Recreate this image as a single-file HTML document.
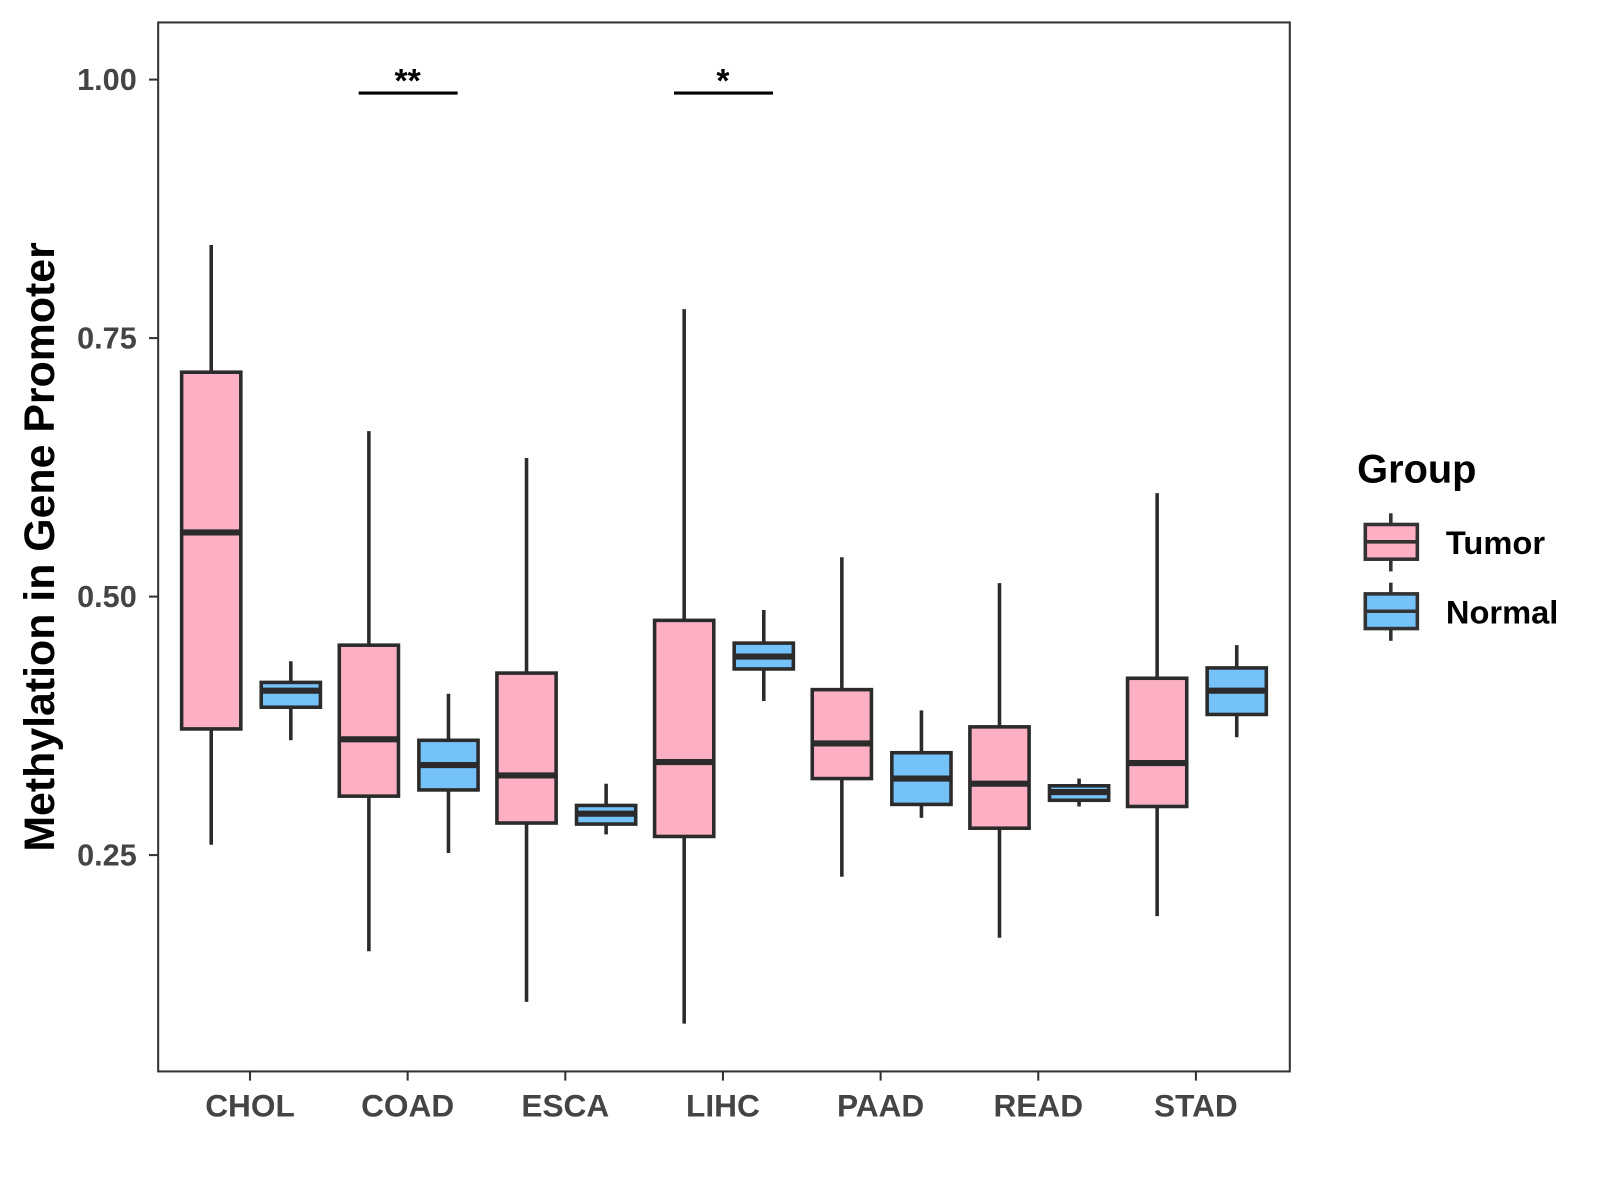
<!DOCTYPE html>
<html><head><meta charset="utf-8"><style>
body{margin:0;background:#fff}
svg{display:block;font-family:"Liberation Sans",Arial,sans-serif;font-weight:bold}
</style></head><body>
<svg id="chart" width="1600" height="1200" viewBox="0 0 1568 1176" xmlns="http://www.w3.org/2000/svg">
<rect x="0" y="0" width="1568" height="1176" fill="#fff"/>
<g id="marks"></g>
<rect x="155" y="22" width="1109" height="1028" fill="none" stroke="#333" stroke-width="2"/>
<g id="axes"></g>
<text transform="translate(53,536) rotate(-90)" text-anchor="middle" font-size="42" fill="#000">Methylation in Gene Promoter</text>
<g>
<text x="1330" y="473" font-size="39" fill="#000">Group</text>
<g>
<line x1="1363" y1="503" x2="1363" y2="560" stroke="#333" stroke-width="3.5"/>
<rect x="1338" y="514" width="51" height="34" fill="#FDB0C3" stroke="#333" stroke-width="3.5"/>
<line x1="1338" y1="531" x2="1389" y2="531" stroke="#333" stroke-width="3.5"/>
<text x="1417" y="543" font-size="32" fill="#000">Tumor</text>
</g>
<g>
<line x1="1363" y1="571" x2="1363" y2="628" stroke="#333" stroke-width="3.5"/>
<rect x="1338" y="582" width="51" height="34" fill="#75C2F8" stroke="#333" stroke-width="3.5"/>
<line x1="1338" y1="599" x2="1389" y2="599" stroke="#333" stroke-width="3.5"/>
<text x="1417" y="611" font-size="32" fill="#000">Normal</text>
</g>
</g>
</svg>
<script>
const categories=["CHOL","COAD","ESCA","LIHC","PAAD","READ","STAD"];
// [low, q1, median, q3, high]
const tumorStats=[[0.260,0.372,0.562,0.717,0.840],[0.157,0.307,0.362,0.453,0.660],[0.108,0.281,0.327,0.426,0.634],[0.087,0.268,0.340,0.477,0.778],[0.229,0.324,0.358,0.410,0.538],[0.170,0.276,0.319,0.374,0.513],[0.191,0.297,0.339,0.421,0.600]];
const normalStats=[[0.361,0.393,0.409,0.417,0.4375],[0.252,0.313,0.337,0.361,0.406],[0.270,0.280,0.290,0.298,0.319],[0.399,0.430,0.442,0.455,0.487],[0.286,0.299,0.324,0.349,0.390],[0.297,0.303,0.311,0.317,0.324],[0.364,0.386,0.409,0.431,0.453]];
const yTicks=[0.25,0.50,0.75,1.00];
const yTickLabels=["0.25","0.50","0.75","1.00"];
const sigCategories=["COAD","LIHC"];
const sigLabels=["**","*"];
const sigLevel=0.987;

const NS="http://www.w3.org/2000/svg";
function y(v){return 78+(1-v)*1013.3;}
function x(i){return 245+i*154.5;}
function mk(tag,attrs,parent){const e=document.createElementNS(NS,tag);for(const k in attrs)e.setAttribute(k,attrs[k]);parent.appendChild(e);return e;}
const marks=document.getElementById('marks'),axes=document.getElementById('axes');
function box(cx,s,fill,name){
  const g=mk('g',{},marks);
  
  
  const w=58;
  mk('line',{x1:cx,x2:cx,y1:y(s[4]),y2:y(s[0]),stroke:'#2b2b2b','stroke-width':3.5},g);
  mk('rect',{x:cx-w/2,y:y(s[3]),width:w,height:y(s[1])-y(s[3]),fill:fill,stroke:'#2b2b2b','stroke-width':3.5},g);
  mk('line',{x1:cx-w/2,x2:cx+w/2,y1:y(s[2]),y2:y(s[2]),stroke:'#2b2b2b','stroke-width':6},g);
}
categories.forEach((c,i)=>{
  box(x(i)-38,tumorStats[i],'#FDB0C3','box-tumor-'+c.toLowerCase());
  box(x(i)+40,normalStats[i],'#75C2F8','box-normal-'+c.toLowerCase());
  mk('line',{x1:x(i),x2:x(i),y1:1050,y2:1059,stroke:'#333','stroke-width':2},axes);
  const t=mk('text',{x:x(i),y:1094,'text-anchor':'middle','font-size':31,fill:'#444'},axes);
  
  
  t.textContent=c;
});
yTicks.forEach((v,i)=>{
  mk('line',{x1:146,x2:155,y1:y(v),y2:y(v),stroke:'#333','stroke-width':2},axes);
  const t=mk('text',{x:134,y:y(v)+10,'text-anchor':'end','font-size':30,fill:'#444'},axes);
  
  
  t.textContent=yTickLabels[i];
});
sigCategories.forEach((c,k)=>{
  const i=categories.indexOf(c);
  const g=mk('g',{},marks);
  
  
  mk('line',{x1:x(i)-48,x2:x(i)+49,y1:y(sigLevel),y2:y(sigLevel),stroke:'#000','stroke-width':3},g);
  const t=mk('text',{x:x(i),y:y(sigLevel)-1,'text-anchor':'middle','font-size':33,fill:'#000'},g);
  t.textContent=sigLabels[k];
});
</script>
</body></html>
